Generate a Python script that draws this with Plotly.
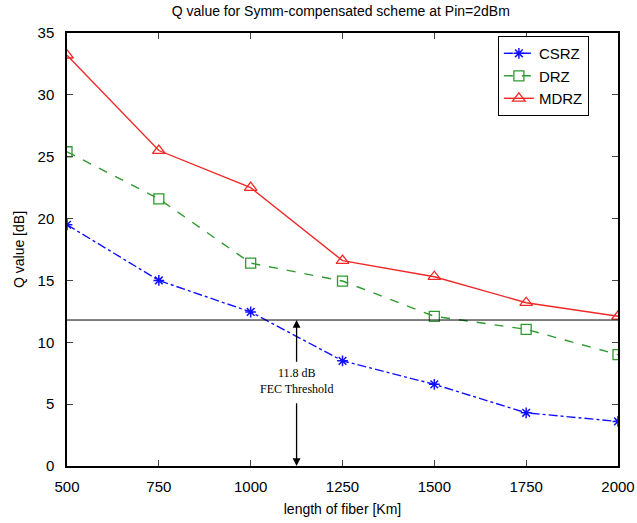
import plotly.graph_objects as go

length_km = [500, 750, 1000, 1250, 1500, 1750, 2000]
q_csrz = [19.5, 15.0, 12.45, 8.5, 6.6, 4.3, 3.6]
q_drz = [25.4, 21.6, 16.4, 14.95, 12.1, 11.05, 9.0]
q_mdrz = [33.2, 25.5, 22.5, 16.6, 15.3, 13.2, 12.1]
fec_threshold = 11.8
arrow_x = 1125
x_ticks = [500, 750, 1000, 1250, 1500, 1750, 2000]
y_ticks = [0, 5, 10, 15, 20, 25, 30, 35]

fig = go.Figure()
fig.add_trace(go.Scatter(x=length_km, y=q_csrz, name="CSRZ", mode="lines+markers",
                         line=dict(color="#1010ff", width=1.4, dash="dashdot"),
                         marker=dict(symbol="asterisk-open", size=9, color="#1010ff",
                                     line=dict(color="#1010ff", width=1.5))))
fig.add_trace(go.Scatter(x=length_km, y=q_drz, name="DRZ", mode="lines+markers",
                         line=dict(color="#2e9a2e", width=1.4, dash="dash"),
                         marker=dict(symbol="square-open", size=10, color="#2e9a2e",
                                     line=dict(color="#2e9a2e", width=1.3))))
fig.add_trace(go.Scatter(x=length_km, y=q_mdrz, name="MDRZ", mode="lines+markers",
                         line=dict(color="#f02828", width=1.4),
                         marker=dict(symbol="triangle-up-open", size=11, color="#f02828",
                                     line=dict(color="#f02828", width=1.3))))

fig.add_shape(type="line", xref="x", yref="y", x0=x_ticks[0], x1=x_ticks[-1],
              y0=fec_threshold, y1=fec_threshold, line=dict(color="black", width=1))

fig.add_annotation(x=arrow_x, y=6.9, xref="x", yref="y",
                   text="11.8 dB<br>FEC Threshold", showarrow=False,
                   font=dict(family="Liberation Serif, Times New Roman, serif", size=12, color="black"))
fig.add_annotation(x=arrow_x, y=fec_threshold, ax=arrow_x, ay=8.3, xref="x", yref="y",
                   axref="x", ayref="y", text="", showarrow=True, arrowhead=2,
                   arrowsize=1.2, arrowwidth=1.3, arrowcolor="black")
fig.add_annotation(x=arrow_x, y=0, ax=arrow_x, ay=5.2, xref="x", yref="y",
                   axref="x", ayref="y", text="", showarrow=True, arrowhead=2,
                   arrowsize=1.2, arrowwidth=1.3, arrowcolor="black")

sans = "Liberation Sans, Arial, sans-serif"
axis_font = dict(family=sans, size=15, color="black")
fig.update_layout(
    width=637, height=523,
    margin=dict(l=67, r=19, t=33, b=57, autoexpand=False),
    paper_bgcolor="white", plot_bgcolor="white",
    title=dict(text="Q value for Symm-compensated scheme at Pin=2dBm", x=0.535, xanchor="center",
               y=0.978, yanchor="middle",
               font=dict(family=sans, size=14, color="black")),
    showlegend=True,
    legend=dict(x=0.782, y=0.993, xanchor="left", yanchor="top", bgcolor="white",
                bordercolor="black", borderwidth=1,
                font=dict(family=sans, size=15, color="black"),
                tracegroupgap=0, itemwidth=30),
    xaxis=dict(range=[500, 2000], tickvals=x_ticks, ticks="inside", ticklen=6,
               showline=True, linecolor="black", linewidth=1.5, mirror="ticks",
               showgrid=False, zeroline=False, tickfont=axis_font, automargin=False,
               ticklabelstandoff=6,
               title=dict(text="length of fiber [Km]", standoff=10,
                          font=dict(family=sans, size=14, color="black"))),
    yaxis=dict(range=[0, 35], tickvals=y_ticks, ticks="inside", ticklen=6,
               showline=True, linecolor="black", linewidth=1.5, mirror="ticks",
               showgrid=False, zeroline=False, tickfont=axis_font, automargin=False,
               ticklabelstandoff=8,
               title=dict(text="Q value [dB]", standoff=10,
                          font=dict(family=sans, size=14, color="black"))),
)

fig.write_html("out.html")
